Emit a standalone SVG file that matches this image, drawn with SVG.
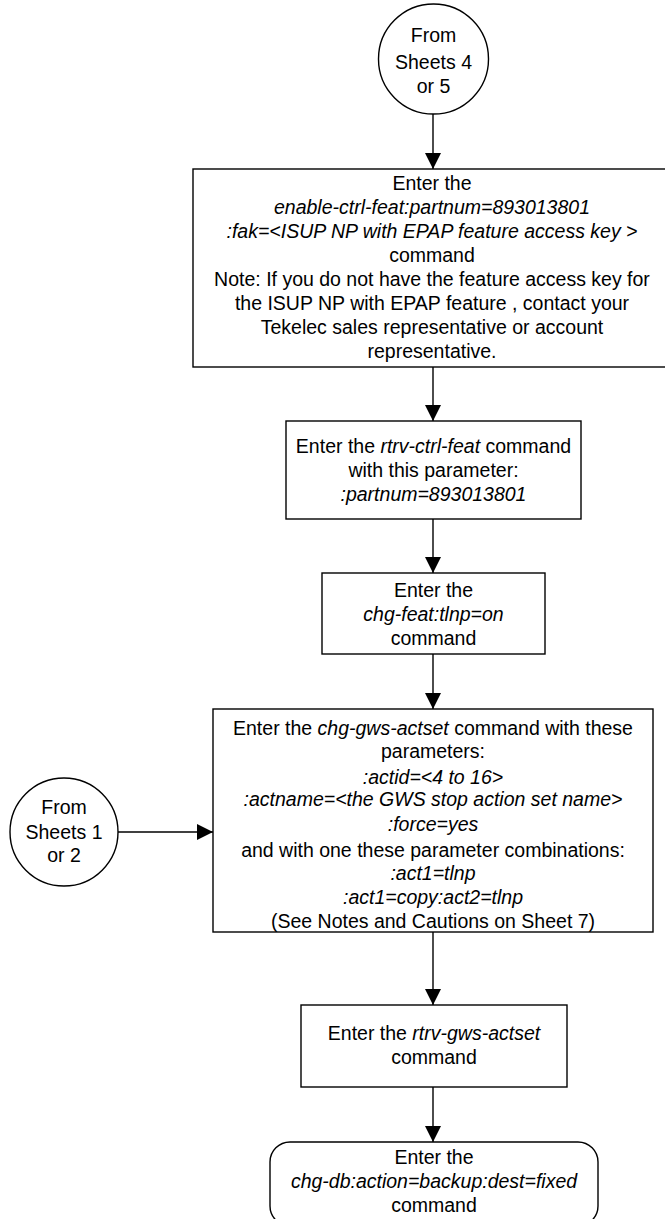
<svg xmlns="http://www.w3.org/2000/svg" width="665" height="1219" viewBox="0 0 665 1219">
<defs>
<style>
.s{fill:#fff;stroke:#000;stroke-width:1.4}
.t{font-family:"Liberation Sans",Arial,sans-serif;font-size:19.5px;fill:#000;text-anchor:middle}
.i{font-style:italic}
.c{stroke:#000;stroke-width:1.4;fill:none}
</style>
<marker id="ah" viewBox="0 0 16 16" refX="16" refY="8" markerWidth="16" markerHeight="16" markerUnits="userSpaceOnUse" orient="auto">
<path d="M0,0 L16,8 L0,16 Z" fill="#000"/>
</marker>
</defs>
<rect width="665" height="1219" fill="#fff"/>
<g id="connectors">
<line class="c" x1="433" y1="114" x2="433" y2="169" marker-end="url(#ah)"/>
<line class="c" x1="433" y1="367" x2="433" y2="421" marker-end="url(#ah)"/>
<line class="c" x1="433" y1="519" x2="433" y2="573" marker-end="url(#ah)"/>
<line class="c" x1="433" y1="654" x2="433" y2="709" marker-end="url(#ah)"/>
<line class="c" x1="118" y1="832" x2="213" y2="832" marker-end="url(#ah)"/>
<line class="c" x1="433" y1="932" x2="433" y2="1005" marker-end="url(#ah)"/>
<line class="c" x1="433" y1="1087" x2="433" y2="1142" marker-end="url(#ah)"/>
</g>
<g id="from45">
<circle class="s" cx="433.5" cy="59" r="55"/>
<text class="t" x="433.5" y="42">From</text>
<text class="t" x="433.5" y="69">Sheets 4</text>
<text class="t" x="433.5" y="93">or 5</text>
</g>
<g id="enable">
<rect class="s" x="193" y="169" width="479" height="198"/>
<text class="t" x="432" y="190">Enter the</text>
<text class="t i" x="432" y="214">enable-ctrl-feat:partnum=893013801</text>
<text class="t i" x="432" y="238">:fak=&lt;ISUP NP with EPAP feature access key &gt;</text>
<text class="t" x="432" y="262">command</text>
<text class="t" x="432" y="286">Note: If you do not have the feature access key for</text>
<text class="t" x="432" y="310">the ISUP NP with EPAP feature , contact your</text>
<text class="t" x="432" y="334">Tekelec sales representative or account</text>
<text class="t" x="432" y="358">representative.</text>
</g>
<g id="rtrvctrl">
<rect class="s" x="286" y="421" width="295" height="98"/>
<text class="t" x="433.5" y="453">Enter the <tspan class="i">rtrv-ctrl-feat</tspan> command</text>
<text class="t" x="433.5" y="477">with this parameter:</text>
<text class="t i" x="433.5" y="501">:partnum=893013801</text>
</g>
<g id="chgfeat">
<rect class="s" x="322" y="573" width="223" height="81"/>
<text class="t" x="433.5" y="597">Enter the</text>
<text class="t i" x="433.5" y="621">chg-feat:tlnp=on</text>
<text class="t" x="433.5" y="645">command</text>
</g>
<g id="from12">
<circle class="s" cx="64" cy="832" r="54"/>
<text class="t" x="64" y="814">From</text>
<text class="t" x="64" y="839">Sheets 1</text>
<text class="t" x="64" y="862">or 2</text>
</g>
<g id="chggws">
<rect class="s" x="213" y="709" width="440" height="223"/>
<text class="t" x="433" y="735">Enter the <tspan class="i">chg-gws-actset</tspan> command with these</text>
<text class="t" x="433" y="758">parameters:</text>
<text class="t i" x="433" y="784">:actid=&lt;4 to 16&gt;</text>
<text class="t i" x="433" y="806">:actname=&lt;the GWS stop action set name&gt;</text>
<text class="t i" x="433" y="831">:force=yes</text>
<text class="t" x="433" y="857">and with one these parameter combinations:</text>
<text class="t i" x="433" y="880">:act1=tlnp</text>
<text class="t i" x="433" y="904">:act1=copy:act2=tlnp</text>
<text class="t" x="433" y="928">(See Notes and Cautions on Sheet 7)</text>
</g>
<g id="rtrvgws">
<rect class="s" x="301" y="1005" width="266" height="82"/>
<text class="t" x="434" y="1040">Enter the <tspan class="i">rtrv-gws-actset</tspan></text>
<text class="t" x="434" y="1064">command</text>
</g>
<g id="chgdb">
<rect class="s" x="270" y="1142" width="328" height="84" rx="20" ry="20"/>
<text class="t" x="434" y="1164">Enter the</text>
<text class="t i" x="434" y="1188">chg-db:action=backup:dest=fixed</text>
<text class="t" x="434" y="1212">command</text>
</g>
</svg>
